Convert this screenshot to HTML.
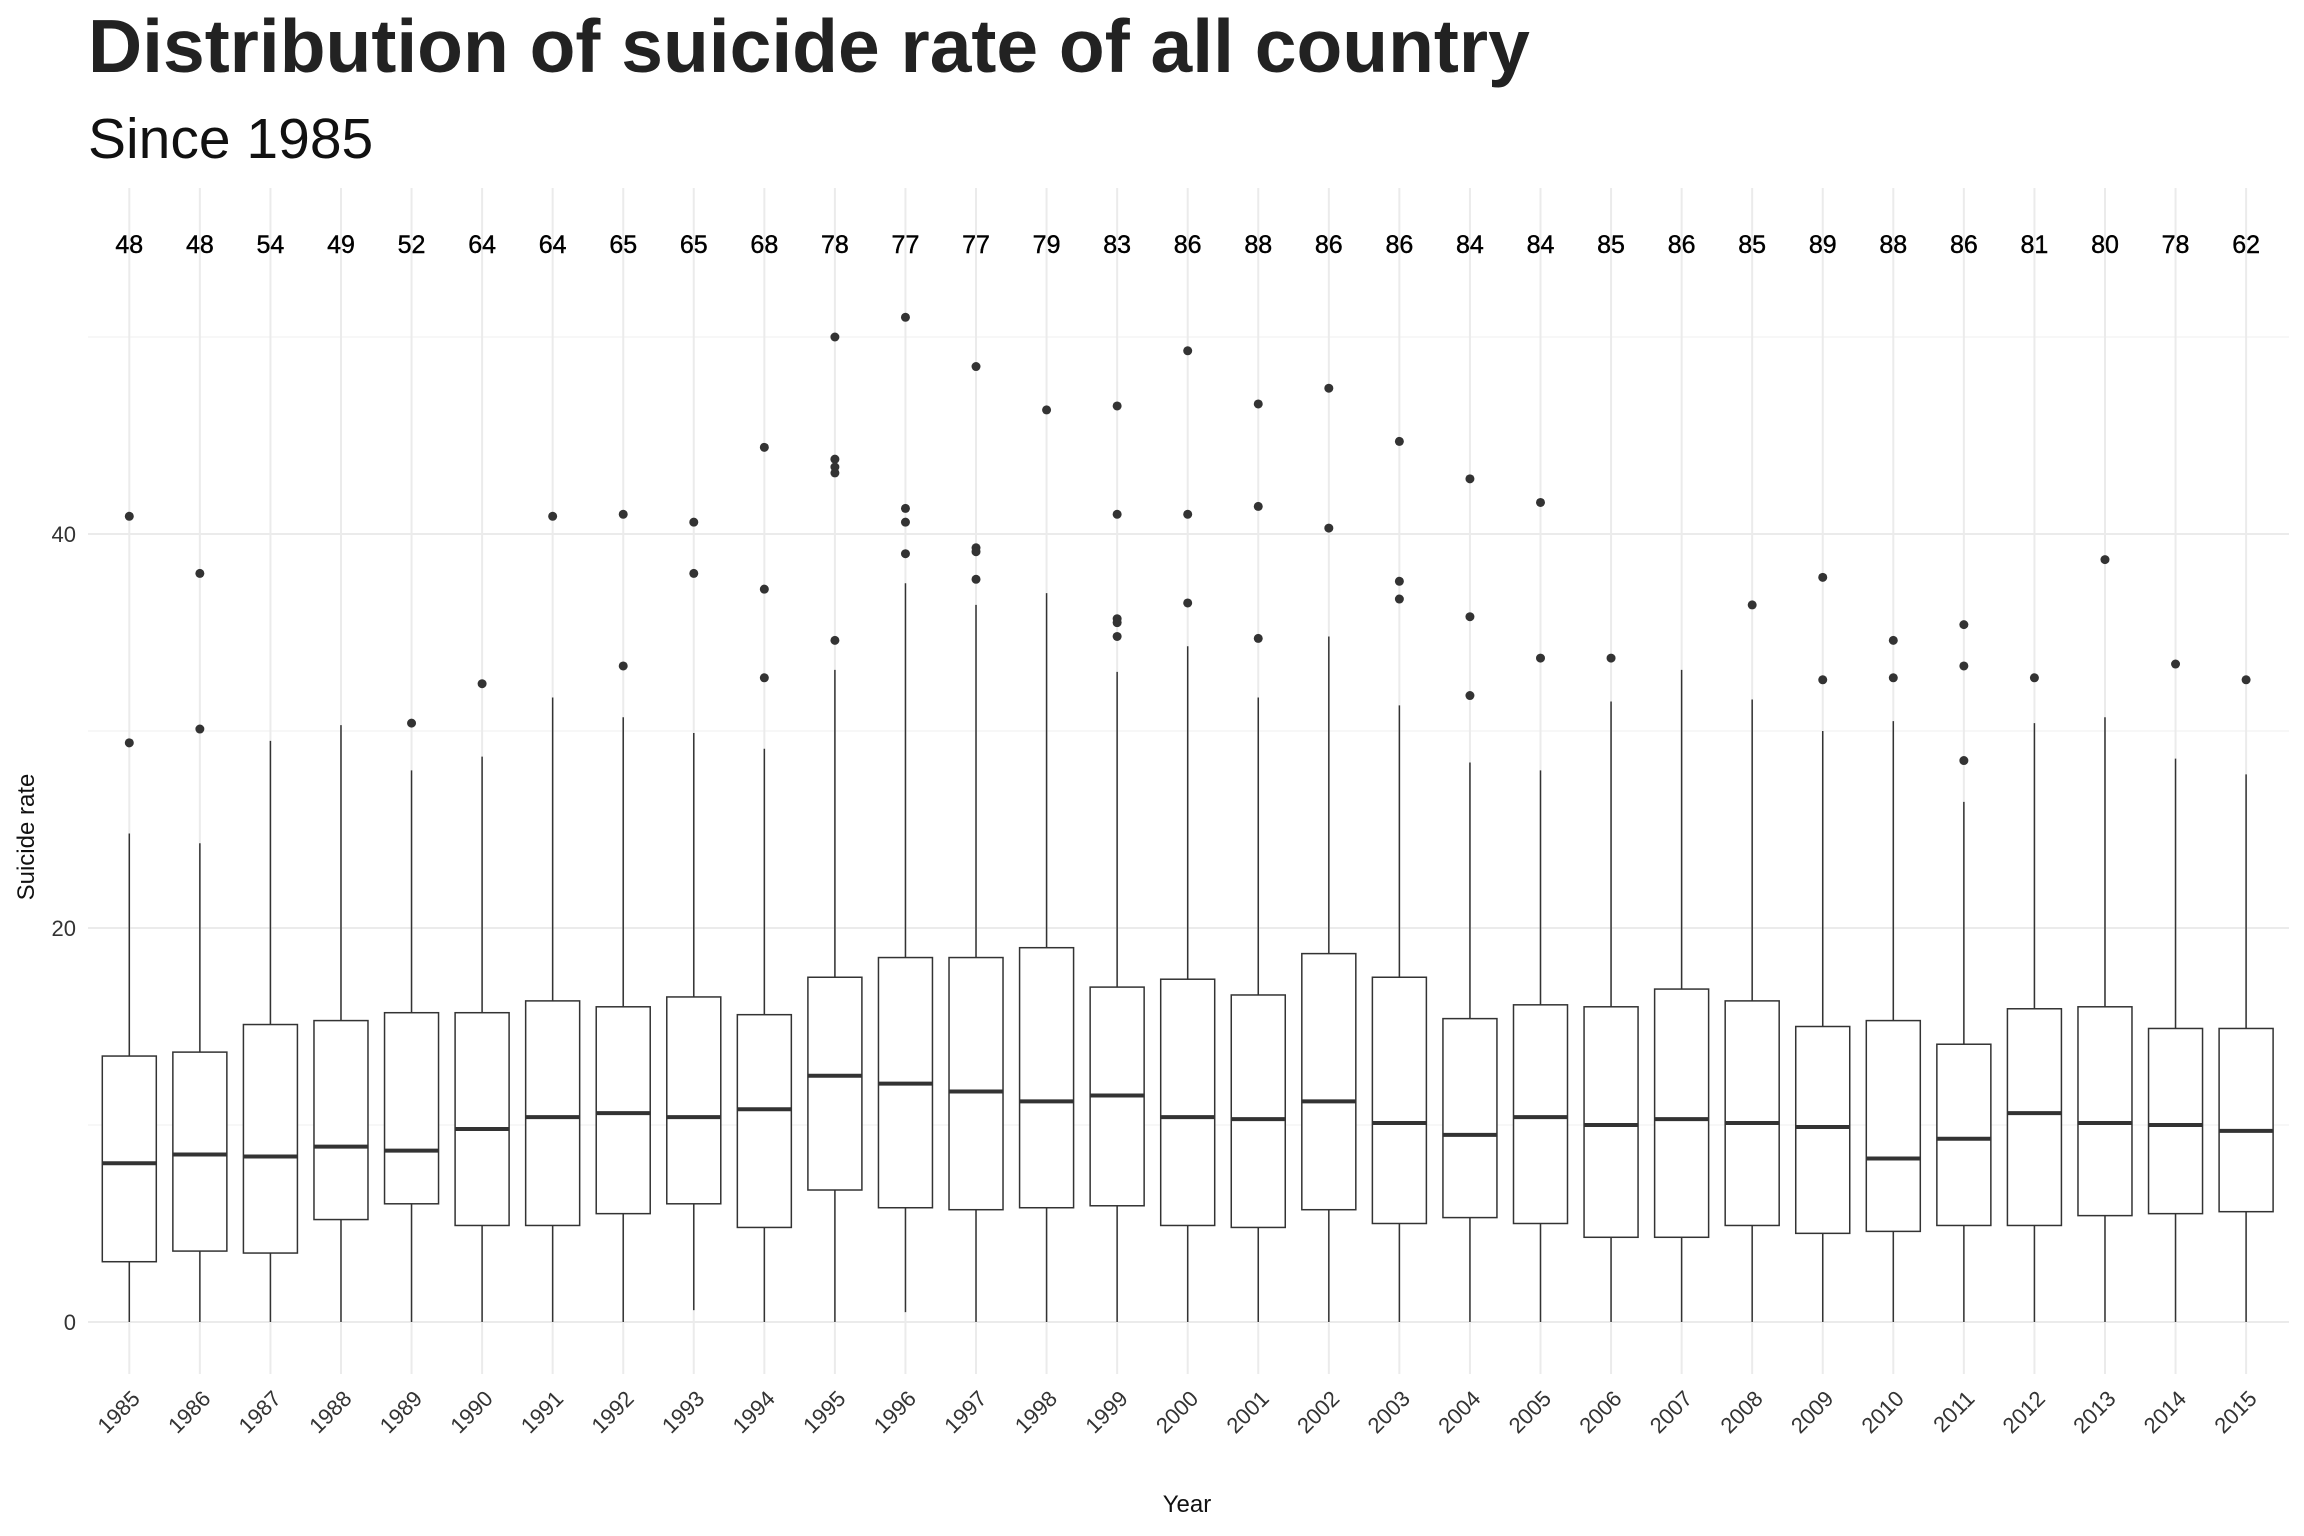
<!DOCTYPE html>
<html><head><meta charset="utf-8"><style>
html,body{margin:0;padding:0;background:#fff}
svg{display:block;font-family:"Liberation Sans",Arial,sans-serif}
</style></head><body>
<svg id="chart" width="2304" height="1536" viewBox="0 0 2304 1536">
<text x="88" y="72" font-size="75" font-weight="bold" fill="#222">Distribution of suicide rate of all country</text>
<text x="88" y="158" font-size="57" fill="#111">Since 1985</text>
<g id="grid"></g>
<g id="marks"></g>
<g id="labels"></g>
<text x="1187" y="1512" font-size="24" text-anchor="middle" fill="#111">Year</text>
<text transform="translate(34,837) rotate(-90)" font-size="24" text-anchor="middle" fill="#111">Suicide rate</text>
</svg>
<script>
const years=[1985,1986,1987,1988,1989,1990,1991,1992,1993,1994,1995,1996,1997,1998,1999,2000,2001,2002,2003,2004,2005,2006,2007,2008,2009,2010,2011,2012,2013,2014,2015];
const counts=[48,48,54,49,52,64,64,65,65,68,78,77,77,79,83,86,88,86,86,84,84,85,86,85,89,88,86,81,80,78,62];
const lowerWhisker=[0,0,0,0,0,0,0,0,0.6,0,0,0.5,0,0,0,0,0,0,0,0,0,0,0,0,0,0,0,0,0,0,0];
const q1=[3.06,3.6,3.5,5.2,6.0,4.9,4.9,5.5,6.0,4.8,6.7,5.8,5.7,5.8,5.9,4.9,4.8,5.7,5.0,5.3,5.0,4.3,4.3,4.9,4.5,4.6,4.9,4.9,5.4,5.5,5.6];
const medians=[8.06,8.5,8.4,8.9,8.7,9.8,10.4,10.6,10.4,10.8,12.5,12.1,11.7,11.2,11.5,10.4,10.3,11.2,10.1,9.5,10.4,10.0,10.3,10.1,9.9,8.3,9.3,10.6,10.1,10.0,9.7];
const q3=[13.5,13.7,15.1,15.3,15.7,15.7,16.3,16.0,16.5,15.6,17.5,18.5,18.5,19.0,17.0,17.4,16.6,18.7,17.5,15.4,16.1,16.0,16.9,16.3,15.0,15.3,14.1,15.9,16.0,14.9,14.9];
const upperWhisker=[24.8,24.3,29.5,30.3,28.0,28.7,31.7,30.7,29.9,29.1,33.1,37.5,36.4,37.0,33.0,34.3,31.7,34.8,31.3,28.4,28.0,31.5,33.1,31.6,30.0,30.5,26.4,30.4,30.7,28.6,27.8];
const outliers=[[29.4,40.9],[30.1,38.0],[],[],[30.4],[32.4],[40.9],[41.0,33.3],[40.6,38.0],[44.4,37.2,32.7],[50.0,43.8,43.4,43.1,34.6],[51.0,41.3,40.6,39.0],[48.5,39.3,39.1,37.7],[46.3],[46.5,41.0,35.7,35.5,34.8],[49.3,41.0,36.5],[46.6,41.4,34.7],[47.4,40.3],[44.7,37.6,36.7],[42.8,35.8,31.8],[41.6,33.7],[33.7],[],[36.4],[37.8,32.6],[34.6,32.7],[35.4,33.3,28.5],[32.7],[38.7],[33.4],[32.6]];
const yTicks=[0,20,40];
const yMinor=[10,30,50];

const NS="http://www.w3.org/2000/svg";
const panelL=88,panelR=2289,panelT=188,panelB=1374;
const x0=129.3,dx=70.56;
function xs(i){return x0+i*dx;}
function ys(v){return 1322-v*19.7;}
function mk(tag,attrs,parent){const e=document.createElementNS(NS,tag);for(const k in attrs)e.setAttribute(k,attrs[k]);parent.appendChild(e);return e;}
const grid=document.getElementById('grid'),marks=document.getElementById('marks'),labels=document.getElementById('labels');
yMinor.forEach(v=>{const l=mk('line',{x1:panelL,x2:panelR,y1:ys(v),y2:ys(v),stroke:'#f2f2f2','stroke-width':1.2},grid);

});
yTicks.forEach(v=>{const l=mk('line',{x1:panelL,x2:panelR,y1:ys(v),y2:ys(v),stroke:'#ebebeb','stroke-width':2},grid);


const t=mk('text',{x:76,y:ys(v)+8,'font-size':22,'text-anchor':'end',fill:'#333'},labels);t.textContent=v;

});
const bw=54;
years.forEach((yr,i)=>{const x=xs(i);
const g=mk('line',{x1:x,x2:x,y1:panelT,y2:panelB,stroke:'#ebebeb','stroke-width':2},grid);


const bx=mk('g',{},marks);


mk('line',{x1:x,x2:x,y1:ys(upperWhisker[i]),y2:ys(q3[i]),stroke:'#333','stroke-width':1.5},bx);
mk('line',{x1:x,x2:x,y1:ys(q1[i]),y2:ys(lowerWhisker[i]),stroke:'#333','stroke-width':1.5},bx);
mk('rect',{x:x-bw/2,y:ys(q3[i]),width:bw,height:ys(q1[i])-ys(q3[i]),fill:'#fff',stroke:'#333','stroke-width':1.5},bx);
mk('line',{x1:x-bw/2,x2:x+bw/2,y1:ys(medians[i]),y2:ys(medians[i]),stroke:'#333','stroke-width':4},bx);
outliers[i].forEach(v=>{const c=mk('circle',{cx:x,cy:ys(v),r:4.5,fill:'#333'},bx);

});
const ct=mk('text',{x:x,y:253,'font-size':25,'text-anchor':'middle',fill:'#000','stroke':'#000','stroke-width':0.4},labels);ct.textContent=counts[i];


const xt=mk('text',{transform:`translate(${x+12},${1400}) rotate(-45)`,'font-size':22,'text-anchor':'end',fill:'#333'},labels);xt.textContent=yr;


});
</script>
</body></html>
